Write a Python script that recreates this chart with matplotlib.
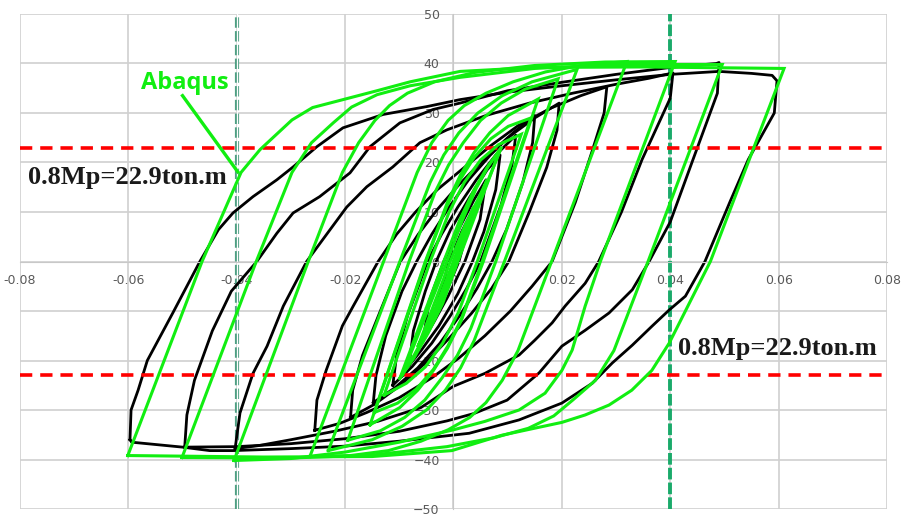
import numpy as np
import matplotlib.pyplot as plt

test_060 = [(-0.0597, -36.0), (-0.0595, -30), (-0.0582, -26), (-0.0565, -20), (-0.0518, -10.4), (-0.0468, 0),
            (-0.0434, 6.4), (-0.0407, 9.8), (-0.037, 13.1), (-0.0326, 16.5), (-0.0296, 19.1), (-0.0252, 23.2),
            (-0.0204, 27), (-0.013, 29.7), (-0.0049, 31.3), (0.0012, 32.7), (0.01, 34.2), (0.02, 35.5),
            (0.03, 36.7), (0.04, 37.8), (0.049, 38.4), (0.055, 38.0), (0.0588, 37.6), (0.0597, 36.5),
            (0.0592, 30), (0.0544, 20.6), (0.051, 12), (0.0464, 0), (0.0428, -7), (0.0398, -9.8),
            (0.0366, -13.1), (0.033, -16.9), (0.0293, -20.5), (0.0256, -24.6), (0.02, -28.6), (0.0121, -32),
            (0.0029, -34.7), (-0.01, -36.3), (-0.02, -37.3), (-0.03, -37.8), (-0.0407, -38.2), (-0.045, -38.2),
            (-0.05, -37.5), (-0.0594, -36.5), (-0.0597, -36.0)]
test_050 = [(-0.0496, -37.5), (-0.0492, -31), (-0.0478, -24), (-0.0445, -14), (-0.041, -6), (-0.0363, 0),
            (-0.0326, 5.7), (-0.0296, 9.8), (-0.0247, 13.1), (-0.0191, 17.9), (-0.0154, 23.2), (-0.0099, 28),
            (-0.0038, 30.7), (0.0012, 32), (0.01, 34.5), (0.02, 36.2), (0.03, 37.8), (0.04, 39.2),
            (0.0485, 40.0), (0.049, 40.2), (0.0487, 34), (0.0442, 20.6), (0.04, 8), (0.0361, 0),
            (0.033, -5.7), (0.0287, -10.4), (0.0243, -13.9), (0.02, -17.1), (0.0158, -22.5), (0.0099, -28),
            (0.0038, -30.7), (-0.0012, -32.2), (-0.01, -34.3), (-0.02, -35.8), (-0.03, -36.8), (-0.04, -37.4),
            (-0.0496, -37.5)]
test_040 = [(-0.0403, -37.8), (-0.0394, -30.6), (-0.037, -22.6), (-0.0344, -17.1), (-0.0314, -9), (-0.0271, 0),
            (-0.0228, 6.4), (-0.0197, 11), (-0.016, 15.1), (-0.0112, 19.1), (-0.0062, 24), (-0.0012, 26.6),
            (0.006, 29.5), (0.014, 32), (0.022, 34), (0.03, 35.8), (0.036, 37), (0.0405, 38.1),
            (0.04, 33), (0.0348, 20.6), (0.031, 10), (0.0268, 0), (0.0243, -4.4), (0.0206, -9),
            (0.0182, -12.4), (0.015, -15.9), (0.0121, -18.9), (0.0058, -22.6), (0.0, -25.2), (-0.006, -29.5),
            (-0.014, -32.3), (-0.022, -34.3), (-0.03, -36), (-0.036, -37.2), (-0.0403, -37.8)]
test_030 = [(-0.0256, -34.1), (-0.0252, -28), (-0.0235, -22), (-0.0205, -13), (-0.0185, -9), (-0.0139, 0),
            (-0.0105, 5.5), (-0.007, 10), (-0.003, 14.5), (0.002, 19), (0.007, 23.5), (0.012, 27.5),
            (0.018, 31), (0.0235, 33.5), (0.0283, 35.3), (0.0278, 30), (0.0255, 22), (0.0225, 12),
            (0.0182, 0), (0.0145, -5), (0.0105, -10), (0.0058, -15), (0.001, -19.5), (-0.004, -23.5),
            (-0.01, -27.5), (-0.016, -30.5), (-0.021, -32.7), (-0.0256, -34.1)]
test_020 = [(-0.019, -31.5), (-0.0186, -26), (-0.0168, -19), (-0.0135, -10), (-0.0098, 0), (-0.0065, 5.5),
            (-0.003, 10.5), (0.001, 15.5), (0.0055, 20.5), (0.01, 25), (0.015, 29), (0.0195, 32),
            (0.0191, 26.5), (0.0172, 19), (0.014, 10), (0.0102, 0), (0.007, -5.5), (0.0033, -10.5),
            (-0.0008, -15.5), (-0.0052, -20.5), (-0.0098, -25), (-0.0145, -28.8), (-0.019, -31.5)]
test_015 = [(-0.0148, -28.5), (-0.0143, -23), (-0.0125, -15), (-0.0095, -6), (-0.0068, 0), (-0.004, 5.5),
            (-0.0008, 11), (0.0028, 16.5), (0.0068, 21.5), (0.011, 26), (0.015, 29.5), (0.0146, 24),
            (0.0128, 16), (0.0098, 6.5), (0.0071, 0), (0.0043, -5.5), (0.0011, -11), (-0.0025, -16.5),
            (-0.0066, -21.5), (-0.0108, -25.5), (-0.0148, -28.5)]
test_010 = [(-0.0112, -25), (-0.0105, -19), (-0.0085, -11), (-0.0048, 0), (-0.0022, 5.5), (0.0008, 11),
            (0.0042, 16.5), (0.0078, 21.5), (0.0115, 25.5), (0.0108, 19.5), (0.0088, 11.5), (0.005, 0),
            (0.0024, -5.5), (-0.0006, -11), (-0.004, -16.5), (-0.0076, -21.2), (-0.0112, -25)]
test_0075 = [(-0.0082, -21), (-0.0074, -14), (-0.0052, -6), (-0.0032, 0), (-0.0005, 6.5), (0.003, 13),
             (0.0062, 18.5), (0.0086, 21.5), (0.0078, 14.5), (0.0056, 6), (0.0035, 0), (0.0008, -6.5),
             (-0.0027, -13), (-0.006, -18), (-0.0082, -21)]
test_005 = [(-0.0056, -16), (-0.0045, -8), (-0.0018, 0), (0.0012, 7), (0.0038, 12.5), (0.006, 16.5),
            (0.0049, 8.5), (0.0021, 0), (-0.001, -7), (-0.0035, -12), (-0.0056, -16)]
test_00375 = [(-0.0036, -11), (-0.0008, 0), (0.0015, 6), (0.0038, 11), (0.001, 0), (-0.0013, -6), (-0.0036, -11)]

# Abaqus loops (green)
fem_060 = [(-0.0601, -39.2), (-0.0464, 0), (-0.0392, 18), (-0.0357, 22.6), (-0.0298, 28.6), (-0.026, 31.1),
           (-0.0204, 32.7), (-0.0141, 34.5), (-0.008, 36.3), (0.0012, 38.4), (0.015, 39.2), (0.035, 39.3),
           (0.061, 39.0), (0.0474, 0), (0.0398, -16.5), (0.0366, -22), (0.0329, -26), (0.0287, -29),
           (0.0243, -31), (0.02, -32.5), (0.0089, -35.1), (-0.0003, -38.2), (-0.015, -39.4), (-0.035, -39.5),
           (-0.0601, -39.2)]
fem_050 = [(-0.0501, -39.6), (-0.0364, 0), (-0.0298, 18), (-0.0262, 24), (-0.0222, 28), (-0.0188, 31.2),
           (-0.0141, 33.7), (-0.008, 35.5), (0.0012, 37.2), (0.015, 39.0), (0.03, 39.8), (0.0496, 39.8),
           (0.0359, 0), (0.0296, -18), (0.0262, -24), (0.022, -28), (0.0185, -31.2), (0.0138, -33.7),
           (0.0075, -35.6), (-0.0012, -37.4), (-0.015, -39.1), (-0.03, -39.7), (-0.0501, -39.6)]
fem_040 = [(-0.0405, -40.2), (-0.0268, 0), (-0.0205, 18), (-0.0175, 24), (-0.0145, 28.5), (-0.0118, 31.5),
           (-0.0085, 34), (-0.0035, 36.3), (0.004, 38.2), (0.015, 39.6), (0.028, 40.3), (0.0409, 40.4),
           (0.0271, 0), (0.0243, -9), (0.0219, -17.9), (0.02, -22), (0.0169, -26.6), (0.0121, -30),
           (0.0058, -32.3), (0.0, -34), (-0.01, -36.5), (-0.02, -38.5), (-0.03, -39.8), (-0.0405, -40.2)]
fem_030 = [(-0.0265, -39.4), (-0.0129, 0), (-0.0067, 18), (-0.004, 24), (-0.001, 28.5), (0.002, 31.5),
           (0.006, 34), (0.011, 36.3), (0.017, 38.3), (0.024, 39.7), (0.032, 40.4), (0.0181, 0),
           (0.0119, -18), (0.009, -24), (0.006, -28.5), (0.003, -31.5), (-0.001, -34), (-0.006, -36.3),
           (-0.012, -38.2), (-0.019, -39.2), (-0.0265, -39.4)]
fem_0225 = [(-0.0231, -38.2), (-0.0099, 0), (-0.0043, 16), (-0.0018, 21.5), (0.001, 26), (0.0045, 30),
            (0.009, 33.5), (0.0145, 36.3), (0.0228, 38.8), (0.0094, 0), (0.0038, -16), (0.0013, -21.5),
            (-0.0015, -26), (-0.005, -30), (-0.0095, -33.3), (-0.015, -36), (-0.0231, -38.2)]
fem_020 = [(-0.0195, -36.1), (-0.0082, 0), (-0.0034, 14), (-0.0009, 19.5), (0.0018, 24), (0.005, 28.5),
           (0.0088, 32), (0.0132, 34.8), (0.0193, 36.9), (0.0078, 0), (0.0032, -13.5), (0.0007, -19),
           (-0.0021, -23.5), (-0.0053, -28), (-0.009, -31.5), (-0.0135, -34.2), (-0.0195, -36.1)]
fem_0155 = [(-0.0154, -33), (-0.0052, 0), (-0.0011, 12), (0.0013, 17.5), (0.0038, 22), (0.0067, 26),
            (0.0101, 29.5), (0.0156, 32.8), (0.0055, 0), (0.0014, -12), (-0.0011, -17.5), (-0.0037, -22),
            (-0.0066, -26), (-0.0099, -29.5), (-0.0154, -33)]
fem_0145 = [(-0.0146, -30.5), (-0.0051, 0), (-0.0013, 11), (0.0012, 16.5), (0.0038, 21), (0.0069, 24.8),
            (0.0101, 27.3), (0.0143, 29), (0.0053, 0), (0.0015, -11.5), (-0.001, -17), (-0.0037, -21.8),
            (-0.0069, -25.8), (-0.0103, -28.6), (-0.0146, -30.5)]
fem_0125 = [(-0.0128, -27), (-0.0043, 0), (-0.0008, 10), (0.002, 16), (0.005, 20.5), (0.0083, 23.6),
            (0.0125, 25.7), (0.0044, 0), (0.0009, -10.3), (-0.002, -16.5), (-0.0052, -21.3), (-0.0087, -24.6),
            (-0.0128, -27)]
fem_009 = [(-0.0099, -23.6), (-0.0018, 0), (0.0012, 8.5), (0.0038, 14.5), (0.0062, 19), (0.0086, 22.6),
           (0.0008, 0), (-0.002, -8.5), (-0.0047, -14.5), (-0.0073, -19.5), (-0.0099, -23.6)]
fem_009b = [(-0.0094, -22.8), (-0.0012, 0), (0.0017, 8.5), (0.0042, 14.8), (0.0064, 19.2), (0.0089, 23.2),
            (0.0003, 0), (-0.0025, -8.5), (-0.005, -14.3), (-0.0072, -18.8), (-0.0094, -22.8)]
fem_006 = [(-0.0065, -17), (-0.0006, 0), (0.0022, 7.5), (0.0045, 12.5), (0.0062, 16.5), (0.0005, 0),
           (-0.0022, -7.5), (-0.0046, -12.8), (-0.0065, -17)]
fem_004 = [(-0.004, -11.3), (0.0, 0), (0.0022, 6.5), (0.0037, 11), (0.0001, 0), (-0.0021, -6.5), (-0.004, -11.3)]

test_loops = [test_060, test_050, test_040, test_030, test_020, test_015, test_010, test_0075, test_005, test_00375]
fem_loops = [fem_060, fem_050, fem_040, fem_030, fem_0225, fem_020, fem_0155, fem_0145, fem_0125, fem_009,
             fem_009b, fem_006, fem_004]

mp_limit = 22.9
drift_limit = 0.04
x_ticks = [-0.08, -0.06, -0.04, -0.02, 0, 0.02, 0.04, 0.06, 0.08]
x_labels = ['-0.08', '-0.06', '-0.04', '-0.02', '0', '0.02', '0.04', '0.06', '0.08']
y_ticks = [-50, -40, -30, -20, -10, 0, 10, 20, 30, 40, 50]

GREEN = '#11ee11'

fig = plt.figure(figsize=(9.12, 5.26), dpi=100)
ax = fig.add_axes([0.0219, 0.0323, 0.9507, 0.9411])
ax.set_xlim(-0.08, 0.08)
ax.set_ylim(-50, 50)

# excel-like axes crossing in the middle
for s in ['top', 'right']:
    ax.spines[s].set_visible(False)
ax.spines['left'].set_position(('data', 0))
ax.spines['bottom'].set_position(('data', 0))
ax.spines['left'].set_color('#c8c8c8')
ax.spines['bottom'].set_color('#c8c8c8')
ax.set_xticks(x_ticks)
ax.set_xticklabels(x_labels)
ax.set_yticks(y_ticks)
ax.tick_params(axis='both', length=0, labelsize=9, labelcolor='#595959')
ax.tick_params(axis='x', pad=9)
ax.tick_params(axis='y', pad=10)
ax.grid(True, color='#d0d0d0', lw=1.2)
ax.set_axisbelow(True)

# drift limit markers (left one looks like a doubled dashed line)
ax.axvline(-drift_limit, color='#4f9f83', lw=3.0, ls=(0, (2.5, 0.8)), zorder=1.5)
ax.axvline(-drift_limit, color='white', lw=0.9, zorder=1.6)
ax.axvline(drift_limit, color='#1aaa6a', lw=2.8, ls=(0, (3, 0.8)), zorder=1.5)

for loop in test_loops:
    pts = np.array(loop)
    ax.plot(pts[:, 0], pts[:, 1], color='black', lw=2.0, zorder=2)

ax.axhline(mp_limit, color='red', lw=2.6, ls=(0, (3.4, 2.2)), zorder=3)
ax.axhline(-mp_limit, color='red', lw=2.6, ls=(0, (3.4, 2.2)), zorder=3)

for loop in fem_loops:
    pts = np.array(loop)
    ax.plot(pts[:, 0], pts[:, 1], color=GREEN, lw=2.2, zorder=4, solid_joinstyle='miter')

ax.text(-0.0786, 16.9, '0.8Mp=22.9ton.m', family='Liberation Serif', weight='bold', fontsize=19,
        color='#1a1a1a', va='center', ha='left', zorder=5)
ax.text(0.0415, -17.5, '0.8Mp=22.9ton.m', family='Liberation Serif', weight='bold', fontsize=19,
        color='#1a1a1a', va='center', ha='left', zorder=5)

ax.text(-0.0496, 36.1, 'Abaqus', family='Open Sans', weight='bold', fontsize=17, color=GREEN,
        ha='center', va='center', zorder=5)
ax.plot([-0.05, -0.0398], [33.5, 18.1], color=GREEN, lw=2.4, zorder=5)

fig.savefig('out.png', dpi=100)
